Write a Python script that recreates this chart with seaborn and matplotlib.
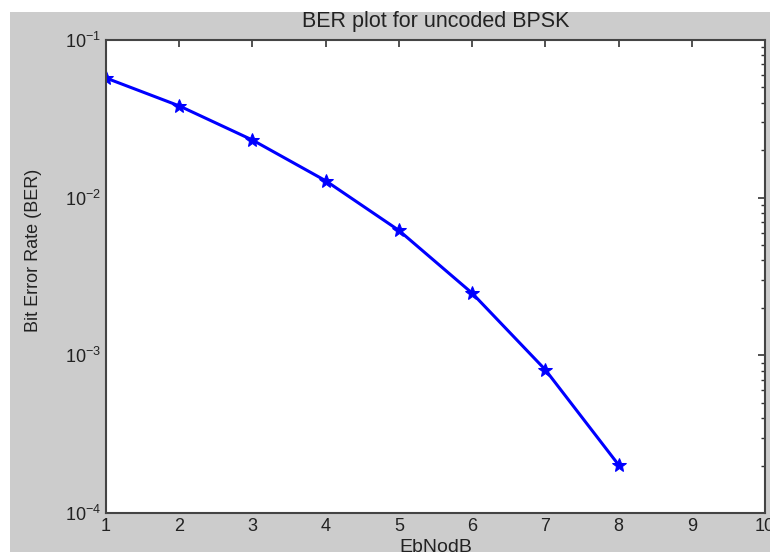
import matplotlib
matplotlib.use('Agg')
import matplotlib.pyplot as plt
import seaborn as sns
import pandas as pd
from matplotlib.patches import Rectangle
from matplotlib.ticker import LogLocator, FixedLocator

ebno_db = [1, 2, 3, 4, 5, 6, 7, 8]
ber = [0.0574, 0.0382, 0.0232, 0.0128, 0.0062, 0.00248, 0.00081, 0.000202]
x_ticks = [1, 2, 3, 4, 5, 6, 7, 8, 9, 10]

sns.set_style('white')
plt.rcParams['font.family'] = ['Liberation Sans', 'DejaVu Sans']

df = pd.DataFrame({'EbNodB': ebno_db, 'BER': ber})

fig = plt.figure(figsize=(7.7, 5.52), dpi=100)
fig.patch.set_facecolor('white')
# grey figure area of the matlab window, white strip at top/left
fig.patches.append(Rectangle((10 / 770, 0), 1, 1 - 12 / 552, transform=fig.transFigure,
                             facecolor='#cccccc', edgecolor='none', zorder=-10))

ax = fig.add_axes([106 / 770, 1 - 513 / 552, (765 - 106) / 770, (513 - 40) / 552])
ax.set_facecolor('white')

sns.lineplot(data=df, x='EbNodB', y='BER', ax=ax, color='#0000ff', linewidth=2.2,
             marker='*', markersize=10, markeredgecolor='#0000ff')

ax.set_yscale('log')
ax.set_xlim(1, 10)
ax.set_ylim(1e-4, 1e-1)
ax.xaxis.set_major_locator(FixedLocator(x_ticks))
ax.yaxis.set_major_locator(LogLocator(base=10, numticks=10))
ax.yaxis.set_minor_locator(LogLocator(base=10, subs=range(2, 10), numticks=20))

ax.tick_params(which='both', direction='in', top=True, right=True, colors='#333333',
               labelcolor='#222222', labelsize=13)
ax.tick_params(which='major', length=5, width=1.2)
ax.tick_params(which='minor', length=3, width=1)
for s in ax.spines.values():
    s.set_color('#444444')
    s.set_linewidth(1.5)

ax.set_title('BER plot for uncoded BPSK', fontsize=15.5, color='#222222', pad=9)
ax.set_xlabel('EbNodB', fontsize=14, color='#222222', labelpad=3)
ax.set_ylabel('Bit Error Rate (BER)', fontsize=13, color='#222222')
ax.yaxis.set_label_coords(-0.097, 0.555)

fig.savefig('out.png', dpi=100)
